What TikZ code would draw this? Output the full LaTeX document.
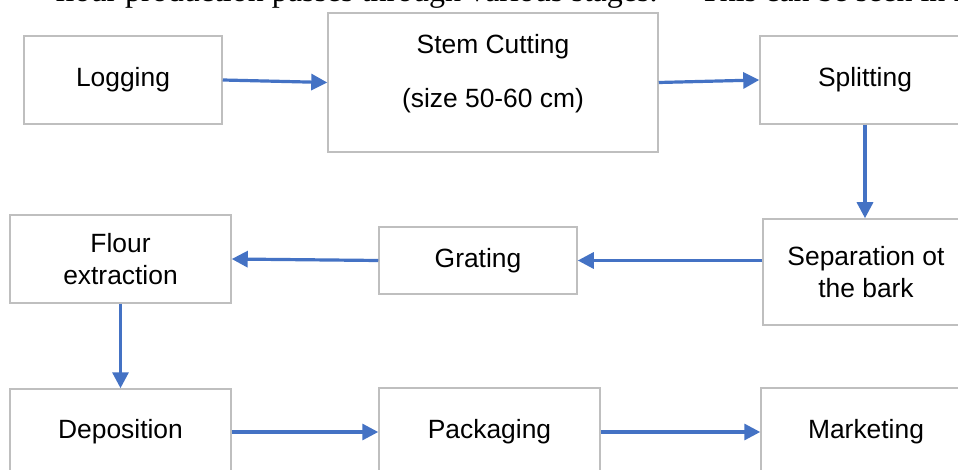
\documentclass[tikz,border=0pt]{standalone}
\usepackage{fontspec}
\setmainfont{Liberation Sans}
\newfontfamily\serifbody{Liberation Serif}
\usetikzlibrary{arrows.meta}
\definecolor{boxgray}{HTML}{BFBFBF}
\definecolor{arrowblue}{HTML}{4472C4}
\begin{document}
\begin{tikzpicture}[x=1pt,y=-1pt,
  stepbox/.style={draw=boxgray, line width=1.5pt, inner sep=0pt, align=center,
    font=\fontsize{26.4}{32.5}\selectfont},
  boxlabel/.style={inner sep=0pt, align=center, font=\fontsize{26.4}{32.5}\selectfont},
  bodytext/.style={anchor=base west, inner sep=0pt, font=\serifbody\fontsize{32}{38}\selectfont},
  flow/.style={draw=arrowblue, line width=3.2pt, -{Triangle[length=16pt,width=16pt]}}]
\path[use as bounding box] (0,0) rectangle (958,470);
\clip (0,0) rectangle (958,470);
\fill[white] (0,0) rectangle (958,470);

% cut-off paragraph line at the top
\node[bodytext] (para1) at (54.8,2) {flour production passes through various stages.};
\node[bodytext] (para2) at (700,2) {This can be seen in Fig};

% top row
\node[stepbox, minimum width=198pt, minimum height=88pt] (log) at (123,80) {Logging};
\node[stepbox, minimum width=330pt, minimum height=139pt] (stem) at (493,82.5) {};
\node[boxlabel] (stemlbl) at (493,74) {Stem Cutting\\[21.5pt](size 50-60 cm)};
\node[stepbox, minimum width=210pt, minimum height=88pt] (split) at (865,80) {Splitting};

% middle row
\node[stepbox, minimum width=206pt, minimum height=106pt] (sep) at (866,272) {Separation ot\\the bark};
\node[stepbox, minimum width=198pt, minimum height=67pt] (grat) at (478,260.5) {Grating};
\node[stepbox, minimum width=221pt, minimum height=88pt] (flour) at (120.5,259) {Flour\\extraction};

% bottom row
\node[stepbox, minimum width=221pt, minimum height=86pt] (dep) at (120.5,432) {Deposition};
\node[stepbox, minimum width=221pt, minimum height=88pt] (pack) at (489.5,432) {Packaging};
\node[stepbox, minimum width=210pt, minimum height=88pt] (mark) at (866,432) {Marketing};

% connectors
\draw[flow] (log.east) -- (stem.west);
\draw[flow] (stem.east) -- (split.west);
\draw[flow] (split.south) -- (split.south |- sep.north);
\draw[flow] (sep.west |- grat.east) -- (grat.east);
\draw[flow] (grat.west) -- (flour.east);
\draw[flow] (flour.south) -- (dep.north);
\draw[flow] (dep.east) -- (pack.west);
\draw[flow] (pack.east) -- (mark.west);
\end{tikzpicture}
\end{document}
